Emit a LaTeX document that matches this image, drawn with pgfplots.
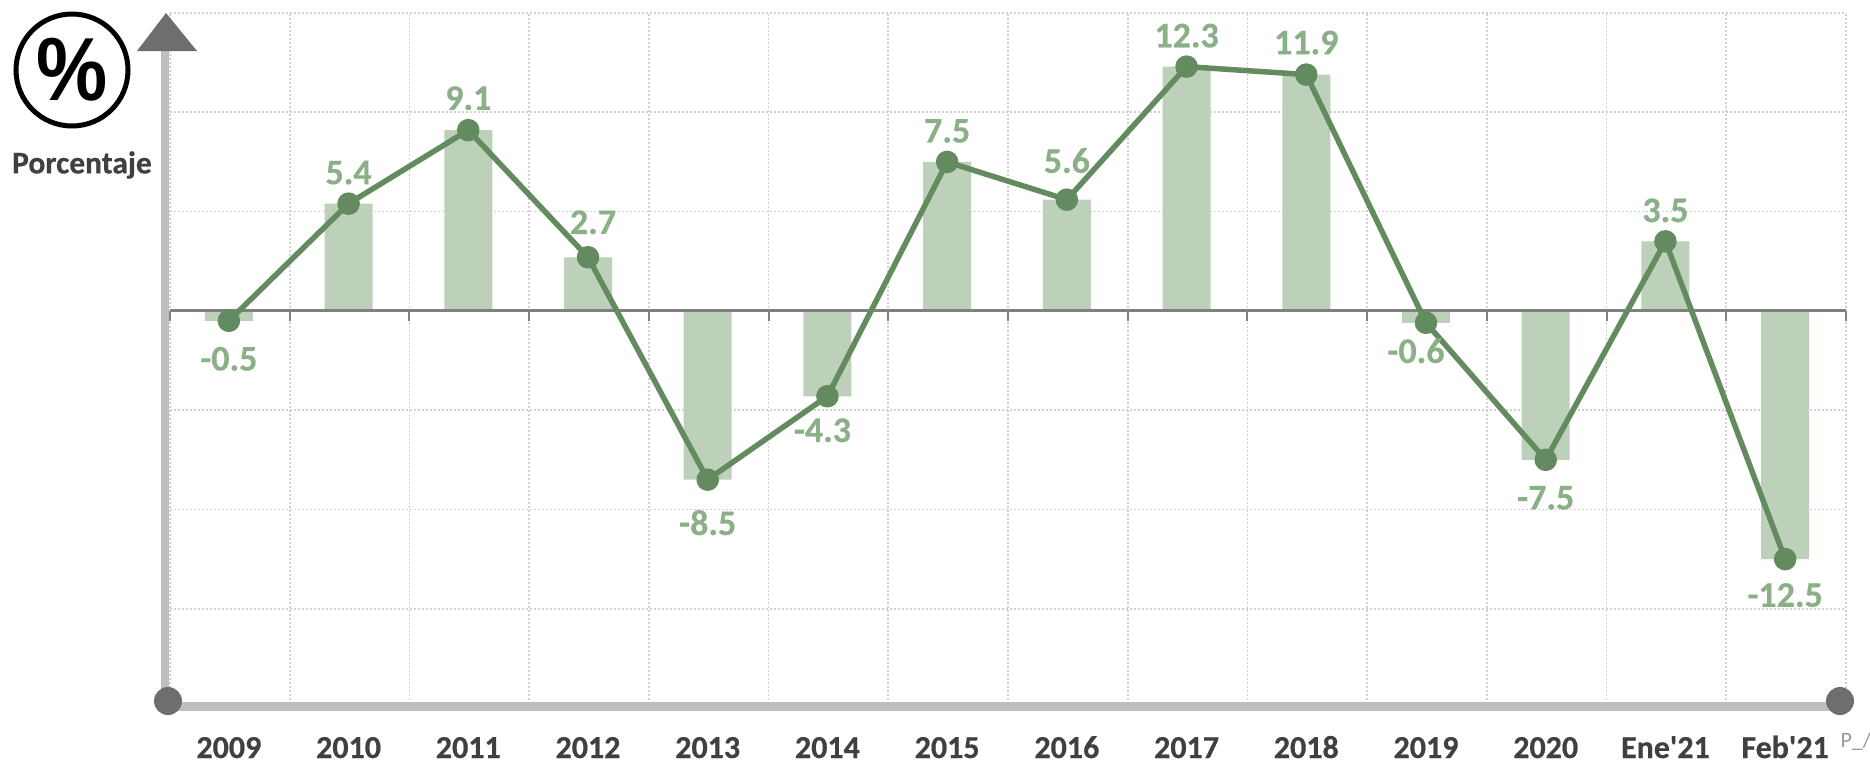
\documentclass[border=0pt]{standalone}
\usepackage{fontspec}
\setmainfont[BoldFeatures={FakeBold=0.5}]{Carlito}
\newfontfamily\plainf[Ligatures=ResetAll,BoldFeatures={FakeBold=0.5}]{Carlito}
\newfontfamily\iconfont{Liberation Sans}
\usepackage{pgfplots}
\usepackage{pgfplotstable}
\pgfplotsset{compat=1.18}
\definecolor{barc}{HTML}{BDD1BA}
\definecolor{linec}{HTML}{648B60}
\definecolor{labc}{HTML}{8BB087}
\definecolor{axc}{HTML}{BEBEBE}
\definecolor{darkc}{HTML}{6E6E6E}
\definecolor{txtc}{HTML}{404040}
\pgfplotstableread{
x y label dx dy
0.5 -0.5 -0.5 0 -38
1.5 5.4 5.4 0 31
2.5 9.1 9.1 0 32
3.5 2.7 2.7 5 35
4.5 -8.5 -8.5 0 -43
5.5 -4.3 -4.3 -5 -34
6.5 7.5 7.5 0 31
7.5 5.6 5.6 0 39
8.5 12.3 12.3 0 31
9.5 11.9 11.9 0 32
10.5 -0.6 -0.6 -10 -28
11.5 -7.5 -7.5 0 -38
12.5 3.5 3.5 0 31
13.5 -12.5 -12.5 0 -36
}\datatable
\begin{document}
\begin{tikzpicture}[x=1pt,y=1pt]
\path[use as bounding box] (0,0) rectangle (1870,-764);
\begin{axis}[
  at={(170pt,-708pt)}, anchor=south west,
  scale only axis, width=1676pt, height=695pt,
  xmin=0, xmax=14, ymin=-20, ymax=15,
  clip=false,
  axis line style={draw=none},
  major tick length=0pt, minor tick length=0pt,
  xtick={0.5,1.5,...,13.5},
  xticklabels={2009,2010,2011,2012,2013,2014,2015,2016,2017,2018,2019,2020,Ene{\plainf\bfseries\symbol{39}}21,Feb{\plainf\bfseries\symbol{39}}21},
  minor xtick={0,1,...,14},
  ytick={-15,-10,...,15},
  yticklabels={},
  xminorgrids=true, ymajorgrids=true,
  minor grid style={draw=black!18, line width=1.6pt, dash pattern=on 1.6pt off 2.4pt},
  major grid style={draw=black!18, line width=1.6pt, dash pattern=on 1.6pt off 2.4pt},
  xticklabel style={anchor=base, xshift=-1pt, yshift=-50pt, font=\fontsize{32}{36}\selectfont\bfseries, text=txtc},
]
\addplot[ybar, bar width=48pt, fill=barc, draw=none, forget plot, xshift=-1pt] table[x=x,y=y] {\datatable};
\draw[draw=black!50, line width=2.8pt] (axis cs:0,0) -- (axis cs:14,0);
\pgfplotsinvokeforeach{0,...,14}{\draw[draw=black!50, line width=2pt] (axis cs:#1,0) -- ++(0pt,-10pt);}
\addplot[
  xshift=-1pt,
  line width=5.5pt, color=linec, line join=round,
  mark=*, mark size=8.5pt, mark options={fill=linec, draw=none},
  point meta=explicit symbolic,
  visualization depends on={\thisrow{dx} \as \dxv},
  visualization depends on={\thisrow{dy} \as \dyv},
  nodes near coords,
  every node near coord/.style={anchor=center, xshift=\dxv, yshift=\dyv, text=labc, inner sep=0pt, font=\fontsize{36}{40}\selectfont\bfseries},
] table[x=x,y=y,meta=label] {\datatable};
\end{axis}
% axes decoration
\fill[axc] (161,-51) rectangle (169,-702);
\fill[axc] (161,-702) rectangle (1840,-711);
\fill[darkc] (166,-13) -- (197,-51) -- (137,-51) -- cycle;
\fill[darkc] (168,-701) circle (14);
\fill[darkc] (1840,-701) circle (14);
% icon
\draw[black, line width=5pt] (72,-70) circle (56);
\node[anchor=center, inner sep=0pt, text=black, yscale=1.12, transform shape] at (72,-70) {\fontsize{80}{90}\selectfont\iconfont\bfseries \%};
\node[anchor=center, inner sep=0pt, text=txtc] at (82,-165) {\fontsize{31.5}{36}\selectfont\bfseries Porcentaje};
\node[anchor=center, inner sep=0pt, text=black!40] at (1856,-741) {\fontsize{22}{24}\selectfont P\_/};
\end{tikzpicture}
\end{document}
